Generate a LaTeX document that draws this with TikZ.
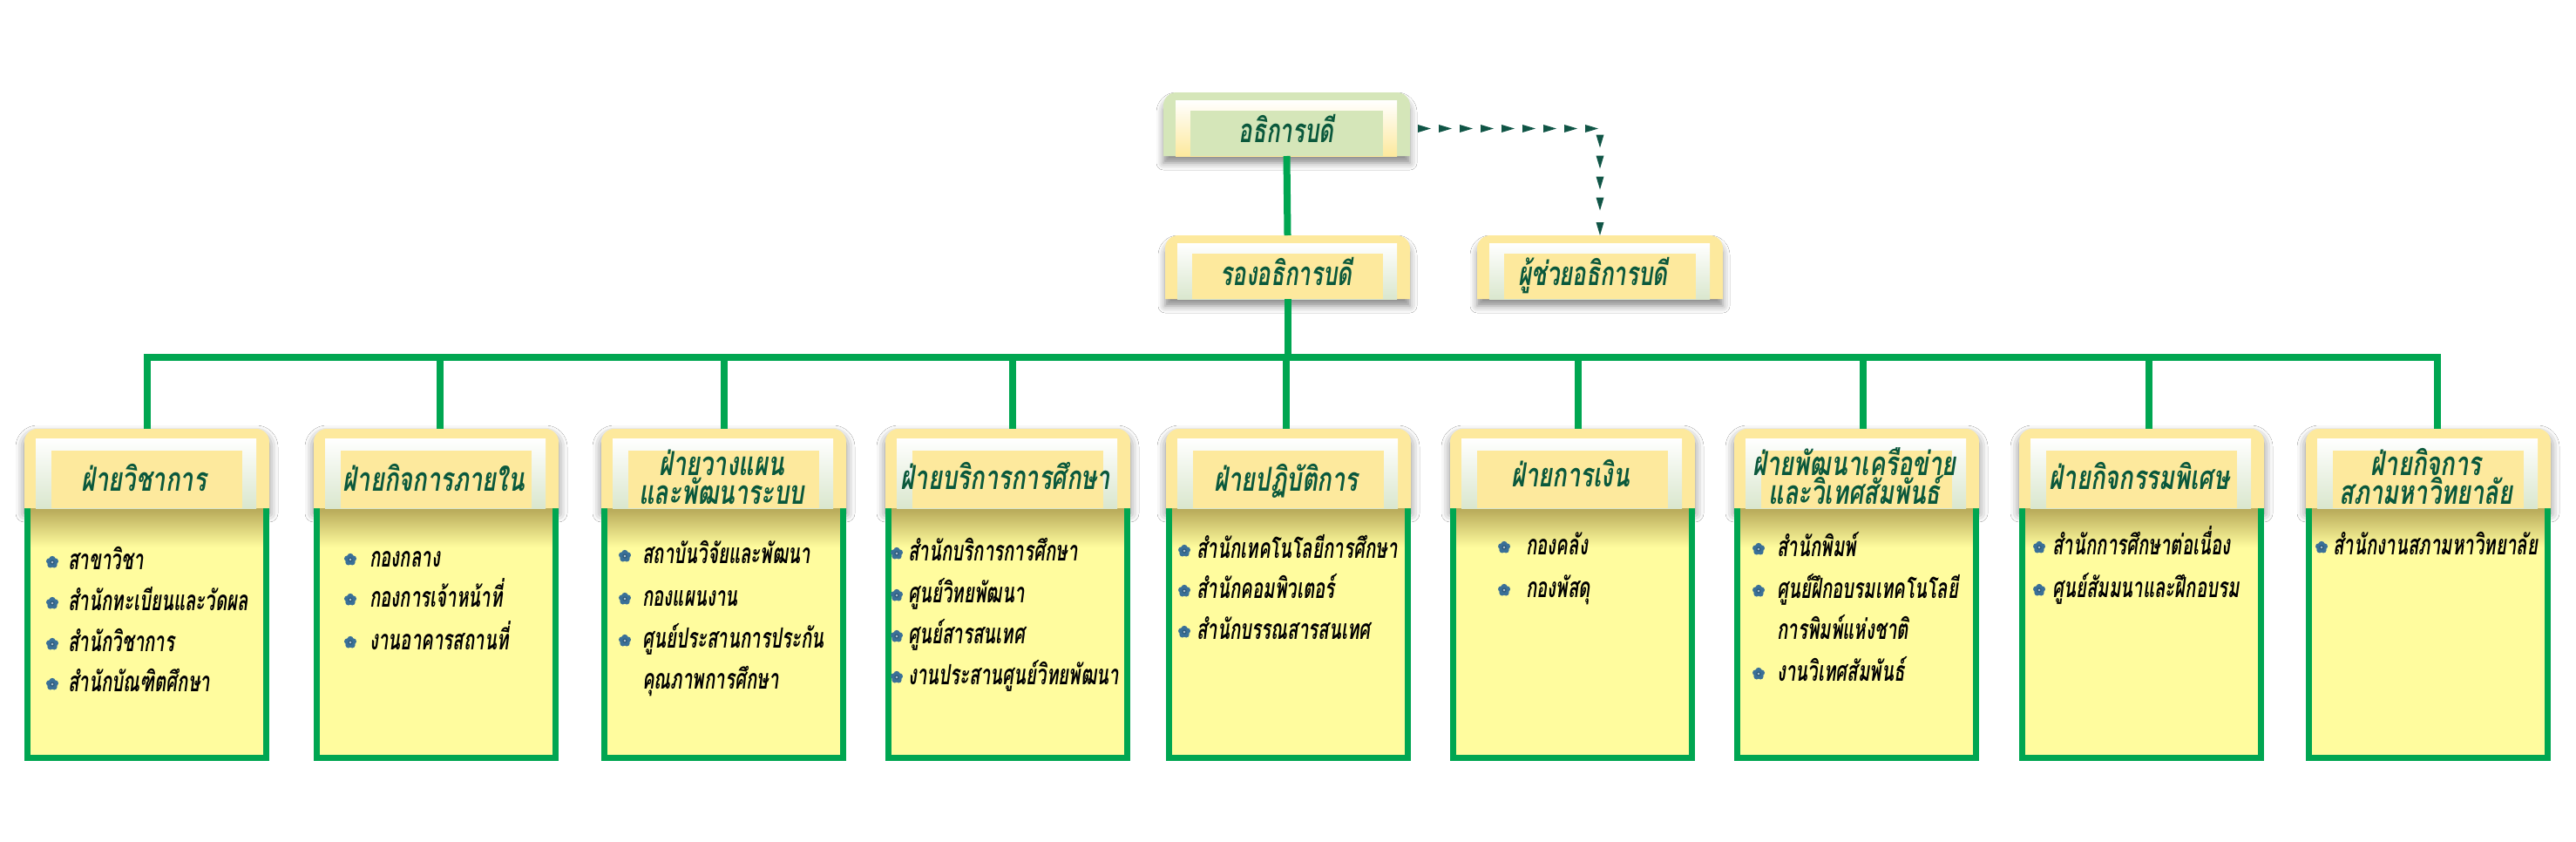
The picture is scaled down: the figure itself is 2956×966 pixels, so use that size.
\documentclass[tikz,border=0pt]{standalone}
\usepackage{fontspec}
\newfontfamily\thaitop[Script=Thai,FakeStretch=0.68]{Loma}
\newfontfamily\thaihdr[Script=Thai,FakeStretch=0.72]{Loma}
\newfontfamily\thaibody[Script=Thai,FakeStretch=0.64]{Loma}
\usetikzlibrary{decorations.markings,shadows.blur}
\definecolor{hdry}{RGB}{253,233,157}
\definecolor{topg}{RGB}{213,230,185}
\definecolor{stripc}{RGB}{218,231,206}
\definecolor{bodyy}{RGB}{255,252,158}
\definecolor{oliv}{RGB}{182,168,88}
\definecolor{lineg}{RGB}{0,166,81}
\definecolor{txtg}{RGB}{10,88,60}
\definecolor{arrg}{RGB}{16,85,70}
\definecolor{bulb}{RGB}{58,112,152}
\tikzset{
  conn/.style={draw=lineg, line width=8pt},
  frame/.style={draw=none, inner sep=0pt, outer sep=0pt, minimum height=73pt},
  hframe/.style={draw=none, inner sep=0pt, outer sep=0pt, minimum width=281pt, minimum height=91pt, anchor=north west},
  toptxt/.style={font=\thaitop\bfseries\itshape\fontsize{38}{40}\selectfont, text=txtg, anchor=base, inner sep=0pt},
  hdrtxt/.style={font=\thaihdr\bfseries\itshape\fontsize{38}{39}\selectfont, text=txtg, anchor=base, inner sep=0pt},
  itm/.style={font=\thaibody\bfseries\itshape\fontsize{32}{34}\selectfont, text=black, anchor=base west, inner sep=0pt},
  dotarr/.style={decoration={markings,
     mark=between positions 24pt and -20pt step 24pt with {\fill[arrg] (-15pt,-4.5pt) -- (0pt,0pt) -- (-15pt,4.5pt) -- cycle;},
     mark=at position 1 with {\fill[arrg] (-15pt,-4.5pt) -- (0pt,0pt) -- (-15pt,4.5pt) -- cycle;}},
     postaction={decorate}},
  flwr/.pic={
    \foreach \a in {18,90,162,234,306} \fill[bulb] (\a:3.7pt) circle (3.5pt);
    \fill[bulb!80!black] (0,0) circle (2.7pt);
    \fill[white!60!bulb] (0,0) circle (1.4pt);
  }
}
% dept box shape: #1 = left x
\newcommand\deptshape[1]{%
  \path[blur shadow={shadow xshift=0pt,shadow yshift=-6pt,shadow blur radius=10pt,shadow opacity=50}]
    (#1,583) [rounded corners=15pt] -- (#1,492) -- ({#1+281},492) [sharp corners] -- ({#1+281},583) -- cycle;
  \fill[bodyy] ({#1+3.5},583) rectangle ({#1+277.5},869.5);
  \shade[top color=oliv, bottom color=bodyy] ({#1+7},583) rectangle ({#1+274},628);
  \draw[lineg, line width=7pt] ({#1+3.5},583) -- ({#1+3.5},869.5) -- ({#1+277.5},869.5) -- ({#1+277.5},583);
  \fill[hdry] (#1,583) [rounded corners=15pt] -- (#1,492) -- ({#1+281},492) [sharp corners] -- ({#1+281},583) -- cycle;
  \shade[top color=white, bottom color=stripc] ({#1+13},583) -- ({#1+13},503) -- ({#1+266},503) -- ({#1+266},583) -- cycle;
  \fill[hdry] ({#1+31},517) rectangle ({#1+250},583);
}
% top box shape: #1 left x, #2 top y, #3 width, #4 outer colour, #5 strip bottom colour
\newcommand\topshape[5]{%
  \path[blur shadow={shadow xshift=0pt,shadow yshift=-8pt,shadow blur radius=8pt,shadow opacity=45}]
    (#1,{#2+73}) [rounded corners=15pt] -- (#1,#2) -- ({#1+#3},#2) [sharp corners] -- ({#1+#3},{#2+73}) -- cycle;
  \fill[#4] (#1,{#2+73}) [rounded corners=15pt] -- (#1,#2) -- ({#1+#3},#2) [sharp corners] -- ({#1+#3},{#2+73}) -- cycle;
  \shade[top color=white, bottom color=#5] ({#1+14},{#2+73}) -- ({#1+14},{#2+9}) -- ({#1+#3-15},{#2+9}) -- ({#1+#3-15},{#2+73}) -- cycle;
  \fill[#4] ({#1+31},{#2+21}) rectangle ({#1+#3-31},{#2+73});
}
\begin{document}
\begin{tikzpicture}[x=1pt,y=-1pt]
\fill[white] (0,0) rectangle (2956,966);
\useasboundingbox (0,0) rectangle (2956,966);

% ---------- top boxes ----------
\topshape{1335}{106}{283}{topg}{hdry}
\topshape{1337}{270}{281}{hdry}{stripc}
\topshape{1695}{270}{282}{hdry}{stripc}
\node[frame, minimum width=283pt, anchor=north west] (ceo) at (1335,106) {};
\node[frame, minimum width=281pt, anchor=north west] (vp) at (1337,270) {};
\node[frame, minimum width=282pt, anchor=north west] (asst) at (1695,270) {};

% ---------- department boxes ----------
\foreach \x in {28,360,690,1016,1338,1664,1990,2317,2646} {\deptshape{\x}}
\foreach \i/\x in {1/28,2/360,3/690,4/1016,5/1338,6/1664,7/1990,8/2317,9/2646}
  {\node[hframe] (h\i) at (\x,492) {};}
\foreach \i/\dx in {1/169,2/505,3/831,4/1162,5/1476,6/1811,7/2138,8/2466,9/2797}
  {\coordinate (d\i) at (\dx,410);}

% ---------- connectors ----------
\draw[conn] (ceo.south) -- (vp.north);
\draw[conn] (vp.south) -- (vp.south |- d5);
\draw[conn] (h1.north -| d1) -- (d1) -- (d9) -- (h9.north -| d9);
\foreach \i in {2,...,8} {\draw[conn] (d\i) -- (h\i.north -| d\i);}
\path[dotarr] ([yshift=-5pt]ceo.east) -| (asst.north);

% ---------- top texts ----------
\node[toptxt] (ceoT) at (1476,163) {อธิการบดี};
\node[toptxt] (vpT) at (1476,327) {รองอธิการบดี};
\node[toptxt] (asstT) at (1828,327) {ผู้ช่วยอธิการบดี};

% ---------- header texts ----------
\node[hdrtxt] (h1T) at (165,563) {ฝ่ายวิชาการ};
\node[hdrtxt] (h2T) at (498,563) {ฝ่ายกิจการภายใน};
\node[hdrtxt] (h3T) at (828,545) {ฝ่ายวางแผน};
\node[hdrtxt] (h3U) at (828,578) {และพัฒนาระบบ};
\node[hdrtxt] (h4T) at (1154,561) {ฝ่ายบริการการศึกษา};
\node[hdrtxt] (h5T) at (1476,563) {ฝ่ายปฏิบัติการ};
\node[hdrtxt] (h6T) at (1802,558) {ฝ่ายการเงิน};
\node[hdrtxt] (h7T) at (2128,545) {ฝ่ายพัฒนาเครือข่าย};
\node[hdrtxt] (h7U) at (2128,578) {และวิเทศสัมพันธ์};
\node[hdrtxt] (h8T) at (2455,561) {ฝ่ายกิจกรรมพิเศษ};
\node[hdrtxt] (h9T) at (2784,545) {ฝ่ายกิจการ};
\node[hdrtxt] (h9U) at (2784,578) {สภามหาวิทยาลัย};

% ---------- items ----------
% box 1
\foreach \y in {645,692,739,785} {\pic at (60,\y) {flwr};}
\node[itm] (b11) at (78,653) {สาขาวิชา};
\node[itm] (b12) at (78,700) {สำนักทะเบียนและวัดผล};
\node[itm] (b13) at (78,747) {สำนักวิชาการ};
\node[itm] (b14) at (78,793) {สำนักบัณฑิตศึกษา};
% box 2
\foreach \y in {642,688,737} {\pic at (402,\y) {flwr};}
\node[itm] (b21) at (424,650) {กองกลาง};
\node[itm] (b22) at (424,696) {กองการเจ้าหน้าที่};
\node[itm] (b23) at (424,745) {งานอาคารสถานที่};
% box 3
\foreach \y in {638,687,735} {\pic at (717,\y) {flwr};}
\node[itm] (b31) at (737,646) {สถาบันวิจัยและพัฒนา};
\node[itm] (b32) at (737,695) {กองแผนงาน};
\node[itm] (b33) at (737,743) {ศูนย์ประสานการประกัน};
\node[itm] (b34) at (737,790) {คุณภาพการศึกษา};
% box 4
\foreach \y in {635,683,730,777} {\pic at (1029,\y) {flwr};}
\node[itm] (b41) at (1042,643) {สำนักบริการการศึกษา};
\node[itm] (b42) at (1042,691) {ศูนย์วิทยพัฒนา};
\node[itm] (b43) at (1042,738) {ศูนย์สารสนเทศ};
\node[itm] (b44) at (1042,785) {งานประสานศูนย์วิทยพัฒนา};
% box 5
\foreach \y in {632,678,725} {\pic at (1359,\y) {flwr};}
\node[itm] (b51) at (1373,640) {สำนักเทคโนโลยีการศึกษา};
\node[itm] (b52) at (1373,686) {สำนักคอมพิวเตอร์};
\node[itm] (b53) at (1373,733) {สำนักบรรณสารสนเทศ};
% box 6
\foreach \y in {628,677} {\pic at (1726,\y) {flwr};}
\node[itm] (b61) at (1751,636) {กองคลัง};
\node[itm] (b62) at (1751,685) {กองพัสดุ};
% box 7
\foreach \y in {630,678,773} {\pic at (2018,\y) {flwr};}
\node[itm] (b71) at (2039,638) {สำนักพิมพ์};
\node[itm] (b72) at (2039,686) {ศูนย์ฝึกอบรมเทคโนโลยี};
\node[itm] (b73) at (2039,733) {การพิมพ์แห่งชาติ};
\node[itm] (b74) at (2039,781) {งานวิเทศสัมพันธ์};
% box 8
\foreach \y in {628,677} {\pic at (2340,\y) {flwr};}
\node[itm] (b81) at (2355,636) {สำนักการศึกษาต่อเนื่อง};
\node[itm] (b82) at (2355,685) {ศูนย์สัมมนาและฝึกอบรม};
% box 9
\pic at (2664,628) {flwr};
\node[itm] (b91) at (2677,636) {สำนักงานสภามหาวิทยาลัย};
\end{tikzpicture}
\end{document}
